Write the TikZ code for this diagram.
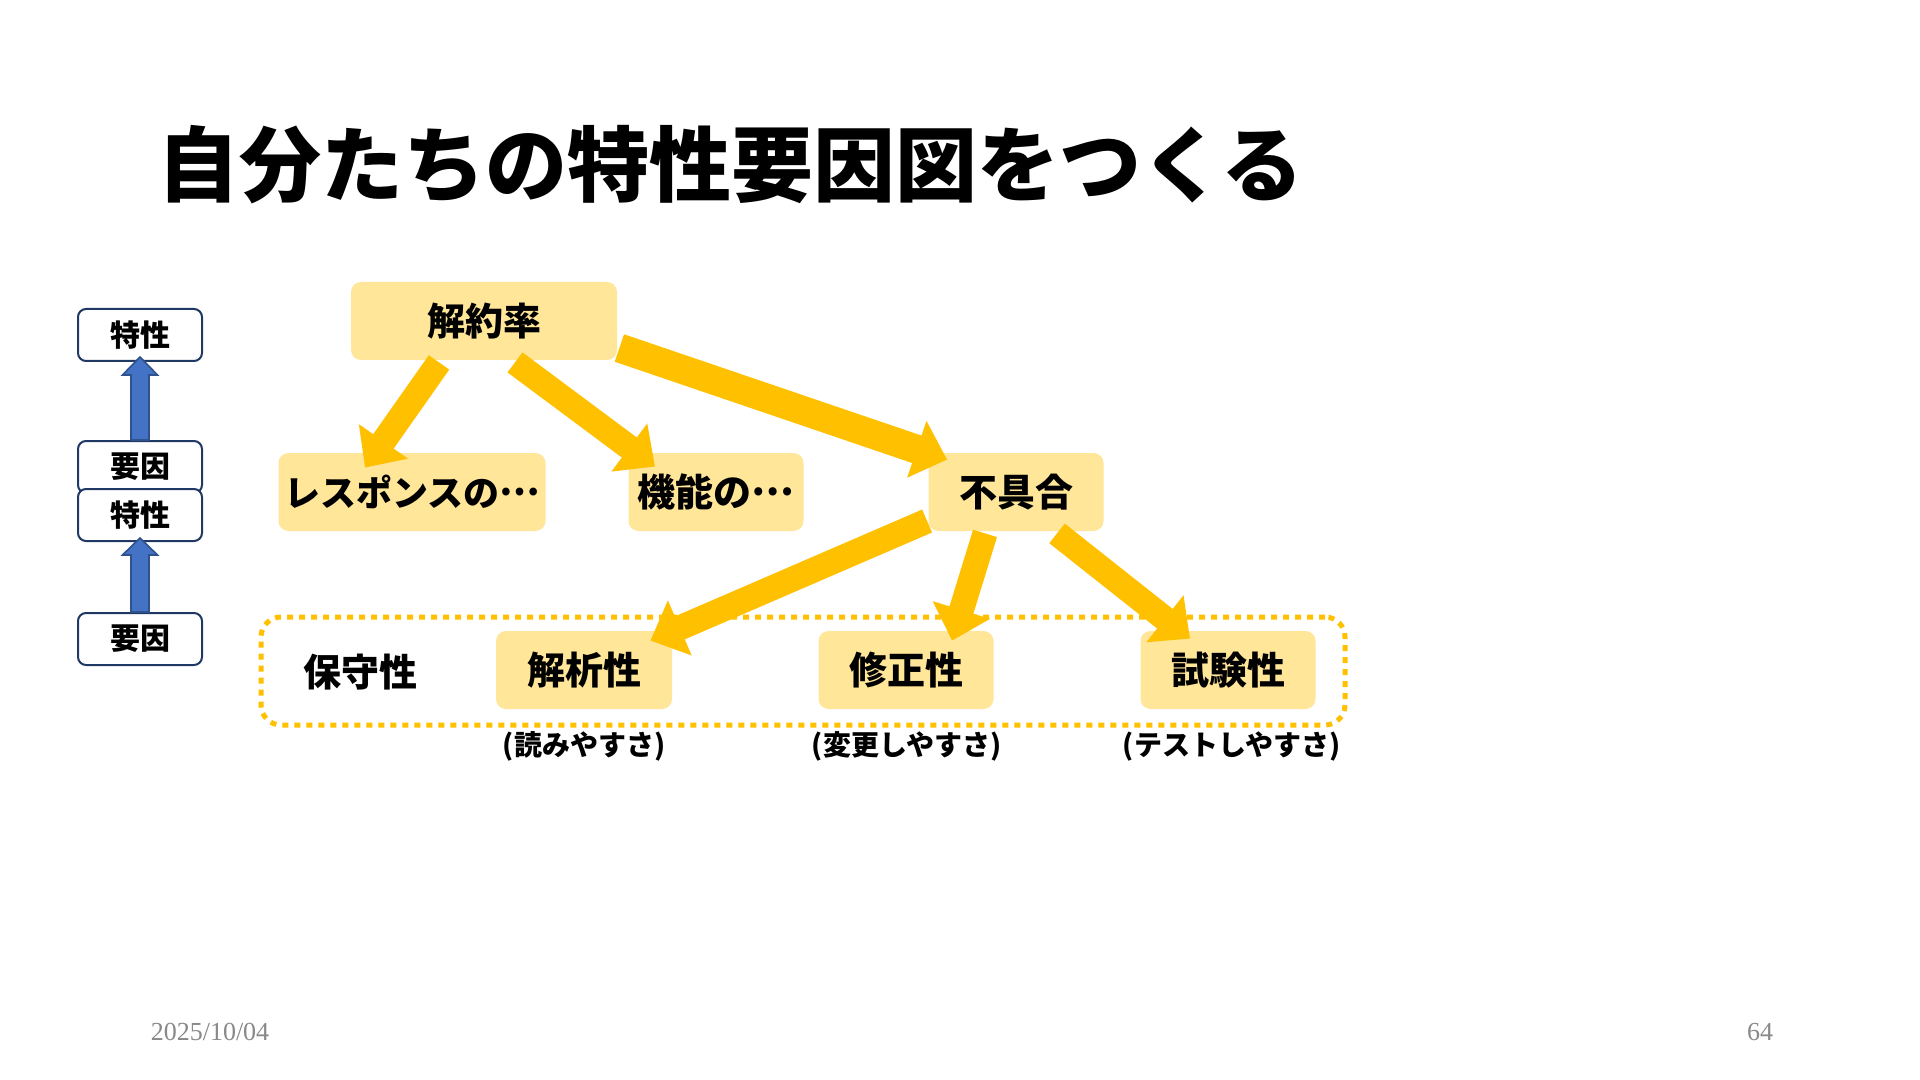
\documentclass[tikz,border=0pt]{standalone}
\usepackage{fontspec}
\setmainfont{Noto Sans CJK JP}
\newfontfamily\lserif{Liberation Serif}
\usetikzlibrary{arrows.meta,calc}
\definecolor{gold}{HTML}{FFC000}
\definecolor{lightgold}{HTML}{FFE699}
\definecolor{navy}{HTML}{203864}
\definecolor{bluef}{HTML}{4472C4}
\definecolor{blued}{HTML}{2F528F}
\definecolor{footgray}{HTML}{898989}
\newcommand{\midellip}{\raisebox{0.3em}{…}}
\begin{document}
\begin{tikzpicture}[x=0.5pt,y=-0.5pt,
  ybox/.style={fill=lightgold, rounded corners=5pt, minimum height=39pt, inner sep=0pt,
    font=\fontsize{19pt}{19pt}\selectfont\bfseries},
  legbox/.style={draw=navy, line width=1pt, fill=white, rounded corners=4pt,
    minimum width=62pt, minimum height=26pt, inner sep=0pt,
    font=\fontsize{15pt}{15pt}\selectfont\bfseries},
  fatarrow/.style={draw=gold, line width=12.5pt, -{Triangle[width=29pt,length=16pt]}},
  bluearrow/.style={fill=bluef, draw=blued, line width=0.8pt},
  notetext/.style={font=\fontsize{14pt}{14pt}\selectfont\bfseries},
  foottext/.style={text=footgray, font=\lserif\fontsize{13pt}{13pt}\selectfont},
  groupbox/.style={draw=gold, line width=2.5pt, dash pattern=on 3pt off 3pt,
    rounded corners=10pt, inner sep=0pt}
]
\useasboundingbox[fill=white] (0,0) rectangle (1920,1080);

% title
\node[anchor=west, font=\fontsize{41pt}{41pt}\selectfont\bfseries] (title) at (150,165) {自分たちの特性要因図をつくる};

% legend
\node[legbox] (t1) at (140,335) {特性};
\node[legbox] (y1) at (140,467) {要因};
\node[legbox] (t2) at (140,515) {特性};
\node[legbox] (y2) at (140,639) {要因};

\draw[bluearrow] ($(y1.north)+(-9,0)$) -- ($(t1.south)+(-9,13)$) -- ($(t1.south)+(-17.5,13)$)
  -- ($(t1.south)+(0,-5)$) -- ($(t1.south)+(17.5,13)$) -- ($(t1.south)+(9,13)$)
  -- ($(y1.north)+(9,0)$) -- cycle;
\draw[bluearrow] ($(y2.north)+(-9,0)$) -- ($(t2.south)+(-9,13)$) -- ($(t2.south)+(-17.5,13)$)
  -- ($(t2.south)+(0,-4)$) -- ($(t2.south)+(17.5,13)$) -- ($(t2.south)+(9,13)$)
  -- ($(y2.north)+(9,0)$) -- cycle;

% group box
\node[groupbox, minimum width=542pt, minimum height=54pt] (grp) at (803,671) {};
\node[font=\fontsize{19pt}{19pt}\selectfont\bfseries] (hoshu) at (360,672) {保守性};

% boxes
\node[ybox, minimum width=133pt] (k) at (484,321) {解約率};
\node[ybox, minimum width=133.5pt, font=\fontsize{18pt}{18pt}\selectfont\bfseries] (resp) at (412,492) {レスポンスの\midellip};
\node[ybox, minimum width=87.5pt] (kino) at (716,492) {機能の\midellip};
\node[ybox, minimum width=87.5pt] (fugu) at (1016,492) {不具合};
\node[ybox, minimum width=88pt] (kaiseki) at (584,670) {解析性};
\node[ybox, minimum width=87.5pt] (shusei) at (906,670) {修正性};
\node[ybox, minimum width=87.5pt] (shiken) at (1228,670) {試験性};

% notes
\node[notetext] (n1) at (584,746) {(読みやすさ)};
\node[notetext] (n2) at (907,746) {(変更しやすさ)};
\node[notetext] (n3) at (1232,746) {(テストしやすさ)};

% yellow arrows
\draw[fatarrow] ($(k.south)+(-45,2)$) -- ($(resp.north)+(-47,15)$);
\draw[fatarrow] ($(k.south)+(31,2)$) -- ($(kino.north)+(-61,14)$);
\draw[fatarrow, line width=14.5pt] ($(k.east)+(2,27)$) -- ($(fugu.north west)+(19,7)$);
\draw[fatarrow] ($(fugu.west)+(-1,29)$) -- ($(kaiseki.north east)+(-22,10)$);
\draw[fatarrow] ($(fugu.south)+(-31,2)$) -- ($(shusei.north)+(46,10)$);
\draw[fatarrow] ($(fugu.south)+(41,2)$) -- ($(shiken.north)+(-38,8)$);

% footer
\node[foottext] (date) at (210,1032) {2025/10/04};
\node[foottext] (page) at (1760,1032) {64};
\end{tikzpicture}
\end{document}
